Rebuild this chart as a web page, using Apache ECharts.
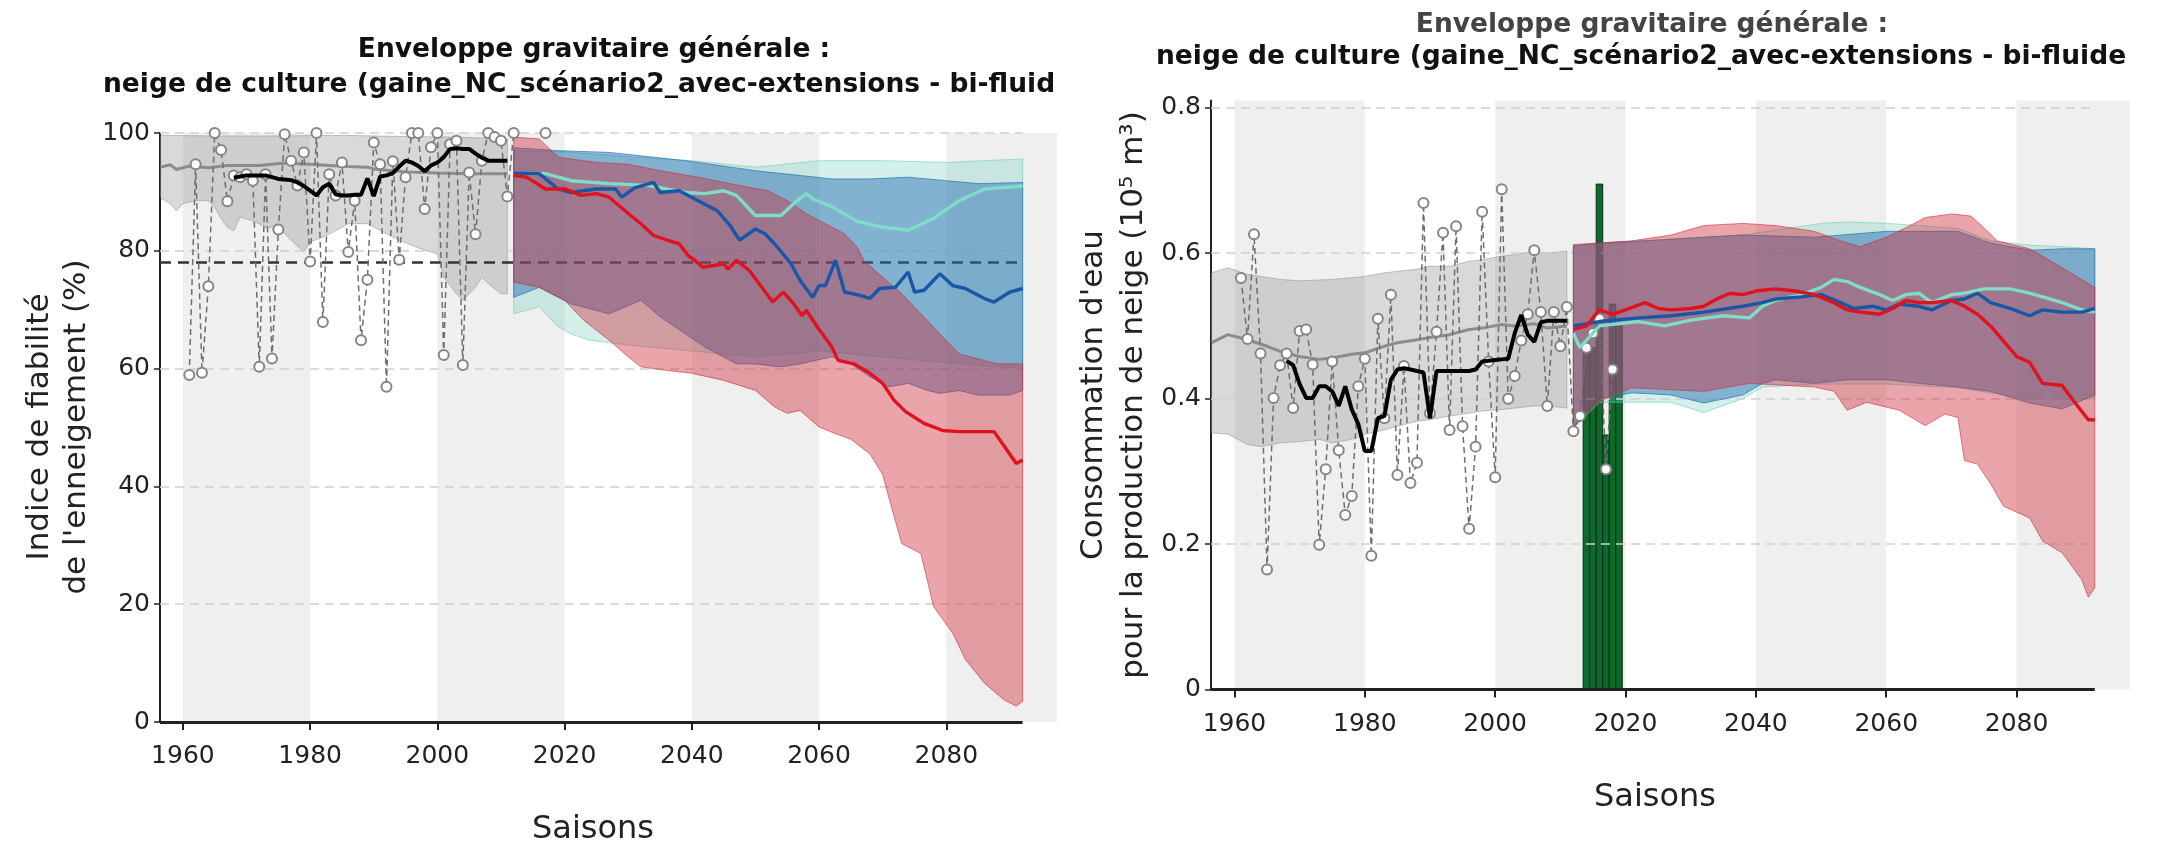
<!DOCTYPE html>
<html>
<head>
<meta charset="utf-8">
<script src="https://cdn.jsdelivr.net/npm/echarts@6/dist/echarts.min.js"></script>
<style>html,body{margin:0;padding:0;background:#fff}#c{width:2157px;height:847px}</style>
</head>
<body>
<div id="c"></div>
<script>
// ---------------- DATA ----------------
const xTicks = [1960, 1980, 2000, 2020, 2040, 2060, 2080];
const leftYTicks = [0, 20, 40, 60, 80, 100];
const rightYTicks = [0, 0.2, 0.4, 0.6, 0.8];
const stripes = [[1960, 1980], [2000, 2020], [2040, 2060], [2080, 2097.4]];
const thresholdLeft = 78;

// observations (left: snow reliability index %)
const obsYears = [1961,1962,1963,1964,1965,1966,1967,1968,1969,1970,1971,1972,1973,1974,1975,1976,1977,1978,1979,1980,1981,1982,1983,1984,1985,1986,1987,1988,1989,1990,1991,1992,1993,1994,1995,1996,1997,1998,1999,2000,2001,2002,2003,2004,2005,2006,2007,2008,2009,2010,2011,2012,2013,2014,2015,2016,2017];
const obsLeft = [58.9,94.7,59.3,74.0,100,97.1,88.4,92.8,92.5,93.0,91.9,60.3,93.0,61.7,83.6,99.8,95.3,91.1,96.7,78.2,100,67.9,93.0,89.4,95.0,79.8,88.5,64.8,75.1,98.4,94.7,56.9,95.2,78.5,92.5,100,100,87.1,97.6,100,62.3,98.1,98.7,60.6,93.3,82.8,95.3,100,99.3,98.7,89.2,100,null,null,null,null,100];

const obsYearsR = [1961,1962,1963,1964,1965,1966,1967,1968,1969,1970,1971,1972,1973,1974,1975,1976,1977,1978,1979,1980,1981,1982,1983,1984,1985,1986,1987,1988,1989,1990,1991,1992,1993,1994,1995,1996,1997,1998,1999,2000,2001,2002,2003,2004,2005,2006,2007,2008,2009,2010,2011,2012,2013,2014,2015,2016,2017,2018];
const obsRight = [0.566,0.482,0.626,0.462,0.165,0.401,0.446,0.462,0.387,0.493,0.495,0.447,0.199,0.303,0.451,0.329,0.240,0.266,0.417,0.455,0.184,0.510,0.373,0.543,0.295,0.445,0.284,0.312,0.669,0.380,0.492,0.628,0.357,0.637,0.362,0.221,0.334,0.657,0.451,0.292,0.688,0.400,0.431,0.480,0.516,0.604,0.519,0.390,0.519,0.472,0.526,0.355,0.376,0.470,0.490,0.510,0.303,0.440];

// moving average of observations
const avgYears = [1968,1969,1970,1971,1972,1973,1974,1975,1976,1977,1978,1979,1980,1981,1982,1983,1984,1985,1986,1987,1988,1989,1990,1991,1992,1993,1994,1995,1996,1997,1998,1999,2000,2001,2002,2003,2004,2005,2006,2007,2008,2009,2010,2011];
const avgLeft = [92.4,92.6,92.8,92.8,92.8,92.8,92.5,92.2,92.1,92.0,91.6,91.0,90.2,89.4,90.8,91.4,89.6,89.4,89.4,89.5,89.5,92.3,89.3,92.6,92.8,93.2,94.3,95.3,95.0,94.4,93.5,94.5,95.0,95.9,97.3,97.4,97.3,97.3,96.5,95.8,95.3,95.3,95.3,95.3];
const avgRight = [0.452,0.446,0.420,0.401,0.401,0.417,0.417,0.410,0.390,0.417,0.385,0.365,0.328,0.328,0.373,0.376,0.426,0.440,0.442,0.440,0.438,0.436,0.373,0.438,0.438,0.438,0.438,0.438,0.438,0.440,0.451,0.452,0.453,0.454,0.455,0.490,0.515,0.488,0.478,0.505,0.507,0.507,0.507,0.507];

// reanalysis envelope (left)
const histUpperL = [[1956.5,99.6],[1965,99.5],[1975,99.5],[1985,99.6],[1995,99.4],[2003,99.3],[2011,99.0]];
const histLowerL = [[1956.5,89],[1958,88],[1959,86.8],[1960,88],[1962,88.5],[1964,88.5],[1965,87.4],[1966,85.5],[1967,84],[1968,83.4],[1969,85.7],[1971,85.1],[1973,84],[1975,84],[1977,81.8],[1979,79.8],[1980,81.5],[1982,82.3],[1984,83.4],[1986,84.6],[1989,84.6],[1992,82.9],[1994,81.8],[1996,80.9],[1998,80.1],[2000,79.5],[2001,75.5],[2003,72.7],[2004,71.6],[2006,73.8],[2007,75.5],[2008,74.4],[2010,72.7],[2011,72.7]];
const histMedianL = [[1956.5,94.2],[1958,94.6],[1959,93.8],[1961,94.4],[1964,94.1],[1967,94.5],[1972,94.5],[1976,94.9],[1980,94.7],[1983,94.5],[1986,94.3],[1989,94.2],[1990,93.9],[1995,93.4],[2000,93.2],[2005,93.1],[2011,93.1]];

// reanalysis envelope (right)
const histUpperR = [[1956.5,0.573],[1959,0.58],[1962,0.571],[1967,0.564],[1970,0.562],[1975,0.564],[1980,0.568],[1983,0.573],[1988,0.578],[1990,0.582],[1993,0.582],[1996,0.589],[1998,0.591],[2001,0.596],[2003,0.598],[2006,0.603],[2008,0.600],[2011,0.603]];
const histLowerR = [[1956.5,0.353],[1959,0.351],[1962,0.337],[1964,0.334],[1967,0.339],[1970,0.341],[1973,0.344],[1975,0.339],[1978,0.344],[1980,0.351],[1983,0.357],[1985,0.362],[1988,0.369],[1990,0.371],[1993,0.376],[1996,0.380],[1998,0.383],[2001,0.385],[2003,0.387],[2006,0.390],[2008,0.390],[2011,0.387]];
const histMedianR = [[1956.5,0.477],[1959,0.488],[1962,0.481],[1965,0.472],[1967,0.465],[1970,0.458],[1973,0.454],[1975,0.456],[1978,0.461],[1980,0.463],[1983,0.472],[1985,0.477],[1988,0.481],[1990,0.484],[1993,0.488],[1996,0.495],[1998,0.497],[2001,0.502],[2003,0.500],[2006,0.503],[2008,0.497],[2011,0.500]];

// projections (left)
const tealUpperL = [[2012,97],[2020,96.8],[2030,96],[2040,95.3],[2050,94.2],[2060,95.3],[2070,95.3],[2080,95],[2092,95.6]];
const tealLowerL = [[2012,69.3],[2016,70.5],[2019,67.1],[2021,65.9],[2024,64.8],[2030,64],[2040,63],[2050,62],[2060,63],[2070,62],[2080,61],[2092,60]];
const blueUpperL = [[2012,97.5],[2019,97.0],[2027,96.7],[2039,95.3],[2050,93.6],[2062,92.2],[2068,92.2],[2074,92.5],[2085,91.4],[2092,91.6]];
const blueLowerL = [[2012,72.1],[2016,73.8],[2019,72.1],[2021,71],[2027,69.3],[2032,71.6],[2035,68.8],[2039,65.9],[2042,63.7],[2047,60.8],[2050,60.8],[2054,60.3],[2057,60.8],[2062,62],[2065,60.8],[2068,58.6],[2071,56.9],[2074,57.5],[2077,56.3],[2079,55.8],[2082,56.3],[2085,55.5],[2090,55.5],[2092,56.3]];
const redUpperL = [[2012,99.3],[2016,99.0],[2019,95.9],[2025,95.0],[2030,94.7],[2035,93.6],[2041,92.5],[2046,91.4],[2052,90.2],[2055,88.5],[2058,86.3],[2061,84.6],[2064,82.9],[2066,80.6],[2067,78.4],[2070,75.5],[2073,72.7],[2076,69.3],[2079,65.9],[2082,62.5],[2088,60.8],[2092,60.8]];
const redLowerL = [[2012,74.7],[2016,73.8],[2020,71.6],[2023,68.2],[2027,64.8],[2030,62],[2032,60.3],[2036,59.7],[2040,59.2],[2045,58],[2050,56.3],[2053,53.5],[2055,52.4],[2057,52.9],[2060,50.1],[2062,49.2],[2065,48],[2068,45.5],[2070,42],[2071,38],[2073,30.3],[2076,28.6],[2078,19.6],[2081,15.1],[2083,10.6],[2086,6.6],[2089,3.8],[2091,2.7],[2092,3.5]];
const tealMedianL = [[2012,93.2],[2017,93.1],[2021,91.9],[2027,91.4],[2033,91.1],[2039,89.9],[2042,89.7],[2045,90.2],[2047,89.4],[2050,86.0],[2054,86.0],[2056,88.0],[2058,89.7],[2059,88.8],[2062,87.5],[2066,85],[2070,84],[2074,83.5],[2078,85.5],[2082,88.5],[2086,90.5],[2092,91]];
const blueMedianL = [[2012,93.2],[2016,93.1],[2019,90.5],[2021,89.9],[2025,90.5],[2028,90.5],[2029,89.1],[2031,90.7],[2034,91.6],[2035,89.9],[2038,90.2],[2041,88.5],[2044,86.8],[2046,84.3],[2047.5,81.8],[2050,83.7],[2051.5,82.9],[2053,81.2],[2055.6,77.8],[2057,75],[2059,72.1],[2060,74.1],[2061,74.1],[2062.6,78.4],[2064,73],[2066.6,72.4],[2068,71.9],[2069.5,73.6],[2072,73.8],[2074,76.4],[2075,73],[2076.5,73.3],[2079,76.1],[2081,74.1],[2083,73.6],[2086,71.9],[2087.5,71.3],[2090,73.0],[2092,73.6]];
const redMedianL = [[2012,92.8],[2014,92.5],[2017,90.5],[2020,90.5],[2022.6,89.4],[2025,89.7],[2027,89.1],[2029.5,86.8],[2032,84.6],[2034,82.6],[2037,81.5],[2038,81.2],[2039.4,79.2],[2040.5,78.4],[2041.7,77.2],[2043.4,77.5],[2045,77.8],[2045.7,76.9],[2047,78.4],[2049,76.7],[2051,73.8],[2052.7,71.3],[2054.4,73.0],[2056,71.0],[2057.3,69.0],[2058,69.9],[2059.7,67.1],[2062,63.7],[2063,61.4],[2065.5,60.8],[2068,59.2],[2070,57.5],[2071.8,54.6],[2073.6,52.7],[2076.5,50.7],[2079.4,49.5],[2082,49.3],[2087.5,49.3],[2089.2,46.7],[2091,43.9],[2092,44.5]];

// projections (right)
const tealUpperR = [[2012,0.61],[2016,0.612],[2027,0.62],[2038,0.625],[2050,0.641],[2054,0.643],[2060,0.641],[2065,0.638],[2071,0.634],[2076,0.617],[2082,0.611],[2087,0.609],[2092,0.606]];
const tealLowerR = [[2012,0.36],[2016,0.395],[2027,0.395],[2032,0.381],[2038,0.40],[2041,0.416],[2049,0.42],[2060,0.42],[2071,0.415],[2082,0.40],[2092,0.40]];
const blueUpperR = [[2012,0.61],[2016,0.614],[2027,0.619],[2038,0.625],[2049,0.622],[2060,0.63],[2071,0.63],[2076,0.614],[2082,0.604],[2087,0.606],[2092,0.606]];
const blueLowerR = [[2012,0.36],[2014,0.38],[2016,0.40],[2021,0.408],[2027,0.405],[2032,0.394],[2038,0.405],[2041,0.421],[2043,0.426],[2049,0.421],[2054,0.426],[2060,0.426],[2065,0.421],[2071,0.416],[2076,0.410],[2082,0.394],[2087,0.386],[2092,0.405]];
const redUpperR = [[2012,0.612],[2016,0.614],[2021,0.617],[2027,0.625],[2032,0.638],[2038,0.641],[2043,0.638],[2049,0.630],[2053,0.617],[2056,0.609],[2060,0.622],[2063,0.635],[2066,0.649],[2070,0.654],[2073,0.651],[2075,0.635],[2077,0.617],[2082,0.606],[2087,0.580],[2092,0.553]];
const redLowerR = [[2012,0.362],[2016,0.397],[2021,0.415],[2032,0.41],[2039,0.421],[2049,0.416],[2052,0.410],[2054,0.384],[2057,0.395],[2062,0.384],[2066,0.363],[2069,0.379],[2071,0.374],[2072,0.315],[2074,0.310],[2076,0.283],[2078,0.252],[2082,0.236],[2084,0.204],[2087,0.188],[2090,0.151],[2091,0.127],[2092,0.14]];
const tealMedianR = [[2012,0.49],[2013,0.47],[2016,0.50],[2022,0.506],[2026,0.500],[2030,0.508],[2035,0.514],[2039,0.511],[2041,0.527],[2043,0.535],[2047,0.543],[2050,0.553],[2052,0.564],[2054,0.561],[2056,0.553],[2059,0.543],[2061,0.535],[2063,0.543],[2065,0.545],[2067,0.532],[2070,0.543],[2072,0.545],[2075,0.551],[2079,0.551],[2082,0.545],[2084,0.540],[2087,0.532],[2090,0.522],[2092,0.519]];
const blueMedianR = [[2012,0.50],[2016,0.506],[2022,0.511],[2027,0.514],[2032,0.519],[2038,0.527],[2041,0.532],[2043,0.537],[2047,0.540],[2050,0.543],[2053,0.532],[2055,0.524],[2058,0.527],[2060,0.522],[2062,0.530],[2065,0.527],[2067,0.522],[2070,0.535],[2072,0.537],[2074,0.545],[2076,0.532],[2079,0.524],[2082,0.514],[2084,0.522],[2087,0.519],[2090,0.519],[2092,0.524]];
const redMedianR = [[2012,0.495],[2014,0.50],[2016,0.522],[2018,0.516],[2020,0.522],[2023,0.532],[2025,0.524],[2027,0.522],[2030,0.524],[2032,0.527],[2034,0.537],[2036,0.545],[2038,0.543],[2040,0.548],[2043,0.551],[2046,0.548],[2049,0.543],[2052,0.532],[2054,0.522],[2056,0.519],[2059,0.516],[2061,0.524],[2063,0.535],[2065,0.532],[2067,0.532],[2070,0.535],[2072,0.527],[2074,0.516],[2076,0.500],[2078,0.479],[2080,0.458],[2082,0.450],[2084,0.421],[2087,0.418],[2089,0.394],[2091,0.371],[2092,0.371]];

// snowmaking consumption bars (right)
const barYears = [2014, 2015, 2016, 2017, 2018, 2019];
const barValues = [0.47, 0.47, 0.695, 0.35, 0.53, 0.50];

// ---------------- CHART ----------------
const X_MIN = 1956.4, X_MAX = 2097.4, X_END = 2092;
const FONT = '"DejaVu Sans", sans-serif';
const zip = (xs, ys) => xs.map((x, i) => [x, ys[i]]);

function band(g, upper, lower, fill, stroke, z) {
  return {
    type: 'custom', xAxisIndex: g, yAxisIndex: g, z: z, silent: true, clip: true,
    data: [upper[0]],
    renderItem: function (params, api) {
      const pts = upper.map(p => api.coord(p)).concat(lower.slice().reverse().map(p => api.coord(p)));
      return { type: 'polygon', shape: { points: pts }, style: { fill: fill, stroke: stroke, lineWidth: 1 } };
    }
  };
}
function line(g, data, color, width, z, extra) {
  return Object.assign({
    type: 'line', xAxisIndex: g, yAxisIndex: g, data: data, symbol: 'none', showSymbol: false,
    lineStyle: { color: color, width: width }, z: z, silent: true
  }, extra || {});
}
function decor(g, gridVals) {
  return {
    type: 'line', xAxisIndex: g, yAxisIndex: g, data: [], z: 0, silent: true,
    markArea: { silent: true, itemStyle: { color: '#efefef' }, data: stripes.map(s => [{ xAxis: s[0] }, { xAxis: s[1] }]) },
    markLine: { silent: true, symbol: ['none', 'none'], label: { show: false },
      lineStyle: { color: '#cfcfcf', type: [9, 6], width: 1.6 },
      data: gridVals.map(v => [{ coord: [X_MIN, v] }, { coord: [X_END, v] }]) }
  };
}
function spine(g) {
  return {
    type: 'line', xAxisIndex: g, yAxisIndex: g, data: [], z: 20, silent: true,
    markLine: { silent: true, symbol: ['none', 'none'], label: { show: false },
      lineStyle: { color: '#222', type: 'solid', width: 3 },
      data: [[{ coord: [X_MIN, 0] }, { coord: [X_END, 0] }]] }
  };
}
function xAx(g) {
  return {
    type: 'value', gridIndex: g, min: X_MIN, max: X_MAX,
    axisLine: { show: false }, splitLine: { show: false },
    axisTick: { show: true, customValues: xTicks, length: 8, lineStyle: { color: '#222', width: 2 } },
    axisLabel: { customValues: xTicks, formatter: v => String(v), fontSize: 25, fontFamily: FONT, color: '#222', margin: 22 }
  };
}
function yAx(g, max, ticks) {
  return {
    type: 'value', gridIndex: g, min: 0, max: max,
    axisLine: { show: true, lineStyle: { color: '#222', width: 2 } }, splitLine: { show: false },
    axisTick: { show: true, customValues: ticks, length: 6, lineStyle: { color: '#222', width: 1.5 } },
    axisLabel: { customValues: ticks, fontSize: 25, fontFamily: FONT, color: '#222', margin: 10 }
  };
}

const C_TEAL_B = 'rgba(110,205,185,0.30)', C_TEAL_E = 'rgba(110,205,185,0.6)';
const C_BLUE_B = 'rgba(40,110,180,0.48)', C_BLUE_E = 'rgba(40,110,180,0.7)';
const C_RED_B = 'rgba(205,40,55,0.42)', C_RED_E = 'rgba(205,40,55,0.6)';
const C_GRAY_B = 'rgba(140,140,140,0.33)', C_GRAY_E = 'rgba(140,140,140,0.5)';
const L_TEAL = '#7fdcc6', L_BLUE = '#1a56a6', L_RED = '#e0121e';

const obsStyle = {
  symbol: 'emptyCircle', showSymbol: true, symbolSize: 10,
  itemStyle: { color: '#858585', borderWidth: 1.7 },
};
const obsLine = { lineStyle: { color: '#6e6e6e', width: 1.5, type: [6, 4] } };

// bars drawn as custom rectangles so they sit under the envelopes
const barSeries = {
  type: 'custom', xAxisIndex: 1, yAxisIndex: 1, z: 1, silent: true, clip: true,
  data: zip(barYears, barValues),
  renderItem: function (params, api) {
    const top = api.coord([api.value(0) - 0.5, api.value(1)]);
    const bot = api.coord([api.value(0) + 0.5, 0]);
    return { type: 'rect', shape: { x: top[0], y: top[1], width: bot[0] - top[0], height: bot[1] - top[1] },
      style: { fill: '#0b6a2c', stroke: '#0d2a14', lineWidth: 1 } };
  }
};

const series = [
  // left
  decor(0, [20, 40, 60, 80, 100]),
  band(0, histUpperL, histLowerL, C_GRAY_B, C_GRAY_E, 2),
  line(0, histMedianL, '#8c8c8c', 3, 3),
  band(0, tealUpperL, tealLowerL, C_TEAL_B, C_TEAL_E, 4),
  band(0, blueUpperL, blueLowerL, C_BLUE_B, C_BLUE_E, 5),
  band(0, redUpperL, redLowerL, C_RED_B, C_RED_E, 6),
  line(0, zip(obsYears, obsLeft), '#777', 1.5, 7, Object.assign({}, obsLine, obsStyle)),
  line(0, zip(avgYears, avgLeft), '#000', 4, 8, {
    markLine: { silent: true, symbol: ['none', 'none'], label: { show: false },
      lineStyle: { color: '#333', type: [11, 7], width: 2.6 },
      data: [[{ coord: [X_MIN, thresholdLeft] }, { coord: [X_END, thresholdLeft] }]] }
  }),
  line(0, tealMedianL, L_TEAL, 3.4, 9),
  line(0, blueMedianL, L_BLUE, 3.4, 10),
  line(0, redMedianL, L_RED, 3.4, 11),
  spine(0),
  // right
  decor(1, [0.2, 0.4, 0.6, 0.8]),
  barSeries,
  band(1, histUpperR, histLowerR, C_GRAY_B, C_GRAY_E, 2),
  line(1, histMedianR, '#8c8c8c', 3, 3),
  band(1, tealUpperR, tealLowerR, C_TEAL_B, C_TEAL_E, 4),
  band(1, blueUpperR, blueLowerR, C_BLUE_B, C_BLUE_E, 5),
  band(1, redUpperR, redLowerR, C_RED_B, C_RED_E, 6),
  line(1, zip(obsYearsR, obsRight), '#777', 1.5, 7, Object.assign({}, obsLine, obsStyle)),
  line(1, zip(avgYears, avgRight), '#000', 4, 8),
  line(1, tealMedianR, L_TEAL, 3.4, 9),
  line(1, blueMedianR, L_BLUE, 3.4, 10),
  line(1, redMedianR, L_RED, 3.4, 11),
  spine(1)
];

const titleFont = 'bold 26.5px ' + FONT;
const option = {
  animation: false,
  backgroundColor: '#fff',
  grid: [
    { left: 160, top: 133, width: 897, height: 589 },
    { left: 1211, top: 100.5, width: 919, height: 589 }
  ],
  xAxis: [xAx(0), xAx(1)],
  yAxis: [yAx(0, 100, leftYTicks), yAx(1, 0.81, rightYTicks)],
  series: series,
  graphic: [
    { type: 'text', x: 594, y: 50, style: { text: 'Enveloppe gravitaire générale :', font: titleFont, fill: '#111', align: 'center', verticalAlign: 'middle' } },
    { type: 'text', x: 103, y: 85, style: { text: 'neige de culture (gaine_NC_scénario2_avec-extensions - bi-fluide)', font: titleFont, fill: '#111', align: 'left', verticalAlign: 'middle', width: 956, overflow: 'truncate', ellipsis: '' } },
    { type: 'text', x: 1652, y: 25, style: { text: 'Enveloppe gravitaire générale :', font: titleFont, fill: '#444', align: 'center', verticalAlign: 'middle' } },
    { type: 'text', x: 1156, y: 57, style: { text: 'neige de culture (gaine_NC_scénario2_avec-extensions - bi-fluide)', font: titleFont, fill: '#111', align: 'left', verticalAlign: 'middle', width: 980, overflow: 'truncate', ellipsis: '' } },
    { type: 'text', x: 58, y: 427, rotation: Math.PI / 2, style: { text: 'Indice de fiabilité\nde l\'enneigement (%)', font: '31px ' + FONT, fill: '#222', align: 'center', verticalAlign: 'middle', lineHeight: 37 } },
    { type: 'text', x: 1114, y: 395, rotation: Math.PI / 2, style: { text: 'Consommation d\'eau\npour la production de neige (10⁵ m³)', font: '31px ' + FONT, fill: '#222', align: 'center', verticalAlign: 'middle', lineHeight: 40 } },
    { type: 'text', x: 593, y: 830, style: { text: 'Saisons', font: '32px ' + FONT, fill: '#222', align: 'center', verticalAlign: 'middle' } },
    { type: 'text', x: 1655, y: 798, style: { text: 'Saisons', font: '32px ' + FONT, fill: '#222', align: 'center', verticalAlign: 'middle' } }
  ]
};

const chart = echarts.init(document.getElementById('c'), null, { renderer: 'canvas', width: 2157, height: 847 });
chart.setOption(option);
</script>
</body>
</html>
